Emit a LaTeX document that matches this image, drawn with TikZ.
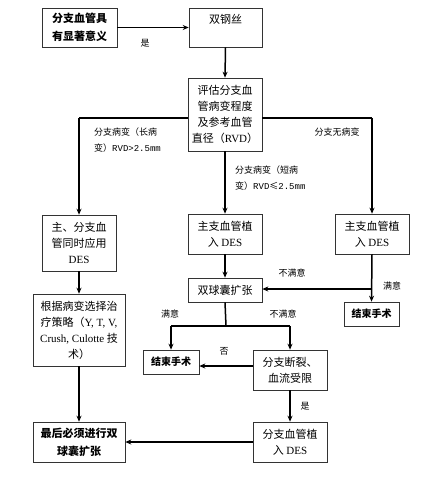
\documentclass[tikz,border=0pt]{standalone}
\usepackage{fontspec}
\setmainfont{Noto Sans CJK SC}
\newfontfamily\lat{Liberation Serif}
\newfontfamily\mono{Liberation Mono}
\usetikzlibrary{arrows.meta}
\tikzset{
  box/.style={draw=black!80, line width=0.6pt, fill=white, align=center, inner sep=1pt,
    font=\fontsize{11}{16}\selectfont},
  bbox/.style={box, font=\fontsize{11}{18}\selectfont\bfseries},
  conn/.style={line width=1.5pt, black},
  arr/.style={conn, -{Stealth[length=6pt,width=5pt]}},
  lbl/.style={font=\fontsize{9}{16}\selectfont, inner sep=0pt, align=left},
}
\begin{document}
\begin{tikzpicture}[x=1pt,y=-1pt]
\fill[white] (0,0) rectangle (427,492);
\useasboundingbox (0,0) rectangle (427,492);

\node[bbox, minimum width=75pt, minimum height=39pt] (n1) at (79.5,27.5) {分支血管具\\有显著意义};
\node[box, minimum width=73pt, minimum height=39pt] (n2) at (225.5,27.5) {双钢丝\\\phantom{双}};
\node[box, minimum width=74pt, minimum height=73pt] (n3) at (225,114.5) {评估分支血\\管病变程度\\及参考血管\\直径（{\lat RVD}）};
\node[box, minimum width=74pt, minimum height=56pt] (n4) at (79,243) {主、分支血\\管同时应用\\{\lat DES}};
\node[box, minimum width=74pt, minimum height=40pt] (n5) at (225,234) {主支血管植\\入 {\lat DES}};
\node[box, minimum width=74pt, minimum height=40pt] (n6) at (372,234) {主支血管植\\入 {\lat DES}};
\node[box, minimum width=74pt, minimum height=24pt] (n7) at (225,290) {双球囊扩张};
\node[bbox, minimum width=55pt, minimum height=24pt, font=\fontsize{10}{14}\selectfont\bfseries] (n8) at (371.5,314) {结束手术};
\node[box, minimum width=92pt, minimum height=72pt] (n9) at (79,330) {根据病变选择治\\疗策略（{\lat Y, T, V,}\\{\lat Crush, Culotte} 技\\术）};
\node[bbox, minimum width=56pt, minimum height=24pt, font=\fontsize{10}{14}\selectfont\bfseries] (n10) at (171,362) {结束手术};
\node[box, minimum width=74pt, minimum height=40pt] (n11) at (290,370) {分支断裂、\\血流受限};
\node[box, minimum width=74pt, minimum height=40pt] (n12) at (290,442) {分支血管植\\入 {\lat DES}};
\node[bbox, minimum width=92pt, minimum height=40pt] (n13) at (79,442) {最后必须进行双\\球囊扩张};

% connectors
\draw[arr] (n1.east) -- (n2.west);
\draw[arr] (n2.south) -- (n3.north);
\coordinate (cl) at (79,118);
\coordinate (cr) at (372,118);
\draw[conn] (n3.west |- cl) -- (cl);
\draw[arr] (cl) -- (n4.north);
\draw[conn] (n3.east |- cr) -- (cr);
\draw[arr] (cr) -- (n6.north);
\draw[arr] (n3.south) -- (n5.north);
\draw[arr] (n5.south) -- (n7.north);
\draw[arr] (n6.south) -- (n8.north);
\coordinate (cm) at (372,289);
\draw[arr] (cm) -- (cm -| n7.east);
\coordinate (cs) at (226,326);
\draw[conn] (n7.south) -- (cs);
\coordinate (csl) at (171,326);
\coordinate (csr) at (290,326);
\draw[conn] (csl) -- (csr);
\draw[arr] (csl) -- (n10.north);
\draw[arr] (csr) -- (n11.north);
\coordinate (cf) at (253,366);
\draw[arr] (cf) -- (cf -| n10.east);
\draw[arr] (n11.south) -- (n12.north);
\draw[arr] (n12.west) -- (n13.east);
\draw[arr] (n4.south) -- (n9.north);
\draw[arr] (n9.south) -- (n13.north);

% labels
\node[lbl] (l1) at (145,43) {是};
\node[lbl, anchor=west] (l2) at (94,140) {分支病变（长病\\变）{\mono RVD>2.5mm}};
\node[lbl] (l3) at (337,132) {分支无病变};
\node[lbl, anchor=west] (l4) at (235,178) {分支病变（短病\\变）{\mono RVD}≤{\mono 2.5mm}};
\node[lbl] (l5) at (392,286) {满意};
\node[lbl] (l6) at (292,273) {不满意};
\node[lbl] (l7) at (170,314) {满意};
\node[lbl] (l8) at (283,314) {不满意};
\node[lbl] (l9) at (224,351) {否};
\node[lbl] (l10) at (305,406) {是};
\end{tikzpicture}
\end{document}
